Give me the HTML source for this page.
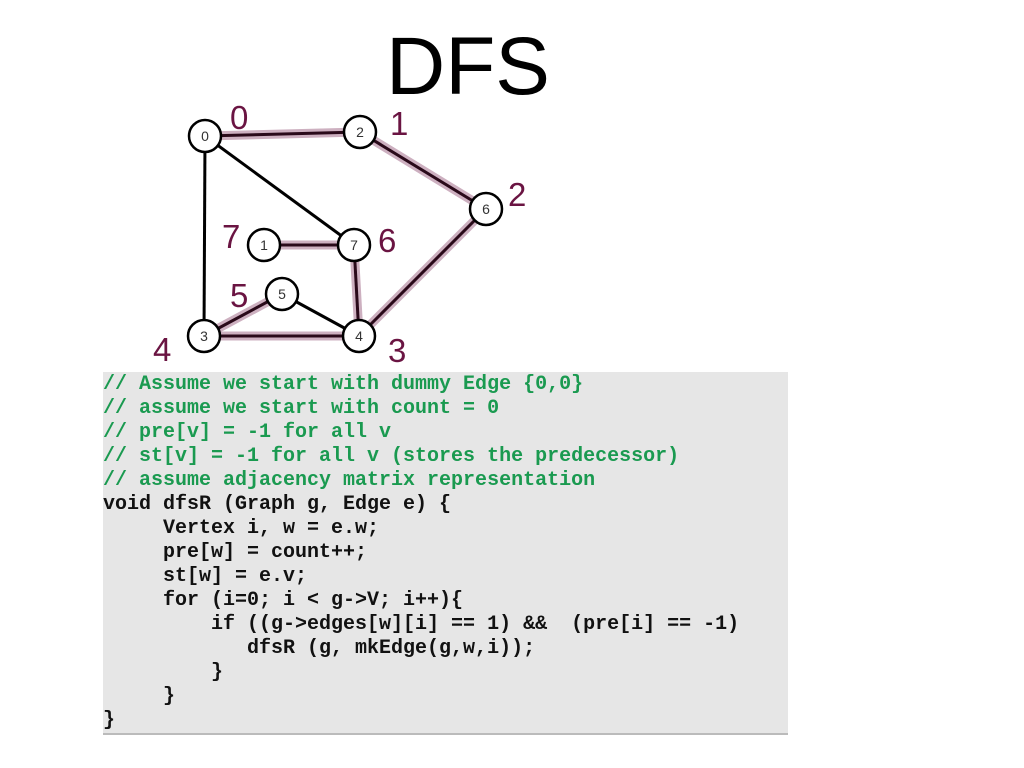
<!DOCTYPE html>
<html><head><style>
body{margin:0;width:1024px;height:768px;background:#fff;position:relative;overflow:hidden;font-family:"Liberation Sans",sans-serif}
#t{position:absolute;left:386px;top:22px;font-size:82px;line-height:90px}
#code{position:absolute;left:103px;top:372px;width:685px;height:361px;background:#e6e6e6;border-bottom:2px solid #bbb}
pre{margin:0;padding-top:1px;font-family:"Liberation Mono",monospace;font-weight:bold;font-size:20px;line-height:24px;color:#111}
.c{color:#1a9a50}
</style></head><body>
<div id="t">DFS</div>
<svg width="1024" height="372" style="position:absolute;left:0;top:0">
<g stroke="#cdb0c0" stroke-width="9" stroke-linecap="round">
<line x1="205" y1="136" x2="360" y2="132"/><line x1="360" y1="132" x2="486" y2="209"/>
<line x1="486" y1="209" x2="359" y2="336"/><line x1="359" y1="336" x2="354" y2="245"/>
<line x1="354" y1="245" x2="264" y2="245"/><line x1="359" y1="336" x2="204" y2="336"/>
<line x1="204" y1="336" x2="282" y2="294"/></g>
<g stroke="#2a0a1a" stroke-width="3">
<line x1="205" y1="136" x2="360" y2="132"/><line x1="360" y1="132" x2="486" y2="209"/>
<line x1="486" y1="209" x2="359" y2="336"/><line x1="359" y1="336" x2="354" y2="245"/>
<line x1="354" y1="245" x2="264" y2="245"/><line x1="359" y1="336" x2="204" y2="336"/>
<line x1="204" y1="336" x2="282" y2="294"/>
<line x1="205" y1="136" x2="204" y2="336" stroke="#000"/><line x1="205" y1="136" x2="354" y2="245" stroke="#000"/><line x1="282" y1="294" x2="359" y2="336" stroke="#000"/></g>
<g fill="#fff" stroke="#000" stroke-width="2.5">
<circle cx="205" cy="136" r="16"/><circle cx="360" cy="132" r="16"/><circle cx="486" cy="209" r="16"/>
<circle cx="264" cy="245" r="16"/><circle cx="354" cy="245" r="16"/><circle cx="282" cy="294" r="16"/>
<circle cx="204" cy="336" r="16"/><circle cx="359" cy="336" r="16"/></g>
<g font-family="Liberation Sans" font-size="14" fill="#333" text-anchor="middle">
<text x="205" y="141">0</text><text x="360" y="137">2</text><text x="486" y="214">6</text>
<text x="264" y="250">1</text><text x="354" y="250">7</text><text x="282" y="299">5</text>
<text x="204" y="341">3</text><text x="359" y="341">4</text></g>
<g font-family="Liberation Sans" font-size="33" fill="#6a1442">
<text x="230" y="129">0</text><text x="390" y="135">1</text><text x="508" y="206">2</text>
<text x="222" y="248">7</text><text x="378" y="252">6</text><text x="230" y="307">5</text>
<text x="153" y="361">4</text><text x="388" y="362">3</text></g>
</svg>
<div id="code"><pre><span class="c">// Assume we start with dummy Edge {0,0}
// assume we start with count = 0
// pre[v] = -1 for all v
// st[v] = -1 for all v (stores the predecessor)
// assume adjacency matrix representation</span>
void dfsR (Graph g, Edge e) {
     Vertex i, w = e.w;
     pre[w] = count++;
     st[w] = e.v;
     for (i=0; i &lt; g-&gt;V; i++){
         if ((g-&gt;edges[w][i] == 1) &amp;&amp;  (pre[i] == -1)
            dfsR (g, mkEdge(g,w,i));
         }
     }
}</pre></div>
</body></html>
